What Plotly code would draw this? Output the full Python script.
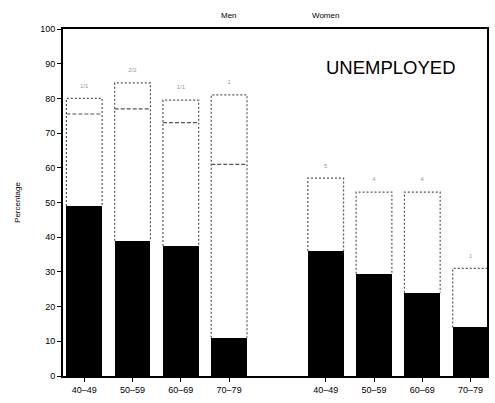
import plotly.graph_objects as go

# Age groups for each sex
age_groups = ["40\u201349", "50\u201359", "60\u201369", "70\u201379"]
groups = ["Men", "Women"]

# Percentage unemployed (solid black part of each bar)
men_solid = [49, 39, 37.5, 11]
women_solid = [36, 29.5, 24, 14]

# Intermediate (dashed) level and upper (dotted) level of each bar
men_mid = [75.5, 77, 73, 61]
men_top = [80, 84.5, 79.5, 81]
women_top = [57, 53, 53, 31]

# Small annotations printed above the bars
men_notes = ["1/1", "2/2", "1/1", "1"]
women_notes = ["5", "4", "4", "1"]

y_ticks = list(range(0, 101, 10))

# Slot positions: four men bars, a blank slot, four women bars
men_x = [0, 1, 2, 3]
women_x = [5, 6, 7, 8]
bar_w = 0.74

fig = go.Figure()

fig.add_trace(go.Bar(
    x=men_x + women_x,
    y=men_solid + women_solid,
    width=bar_w,
    marker=dict(color="black", line=dict(width=0)),
    showlegend=False,
    hoverinfo="skip",
))

# Dotted outlines for the upper, open part of each bar
def outline(xc, y0, y1, dash="2px,2px"):
    h = bar_w / 2
    fig.add_trace(go.Scatter(
        x=[xc - h, xc - h, xc + h, xc + h],
        y=[y0, y1, y1, y0],
        mode="lines",
        line=dict(color="#555555", width=1.2, dash=dash),
        showlegend=False,
        hoverinfo="skip",
    ))

def level(xc, y, dash="4px,2px"):
    h = bar_w / 2
    fig.add_trace(go.Scatter(
        x=[xc - h, xc + h],
        y=[y, y],
        mode="lines",
        line=dict(color="#555555", width=1.2, dash=dash),
        showlegend=False,
        hoverinfo="skip",
    ))

for xc, s, m, t in zip(men_x, men_solid, men_mid, men_top):
    outline(xc, s, t)
    level(xc, m)

for xc, s, t in zip(women_x, women_solid, women_top):
    outline(xc, s, t)

# Faint notes above the bars
fig.add_trace(go.Scatter(
    x=men_x + women_x,
    y=[t + 3.5 for t in men_top] + [t + 3.5 for t in women_top],
    mode="text",
    text=men_notes + women_notes,
    textfont=dict(family="Liberation Sans", size=6, color="#9a9a9a"),
    showlegend=False,
    hoverinfo="skip",
))

fig.update_layout(
    width=495,
    height=403,
    margin=dict(l=63, r=6, t=29, b=27),
    paper_bgcolor="white",
    plot_bgcolor="white",
    bargap=0,
    font=dict(family="Liberation Sans", size=9, color="black"),
    annotations=[
        dict(text="UNEMPLOYED", x=6.35, y=89, xref="x", yref="y",
             showarrow=False, font=dict(size=18.5, color="black")),
        dict(text=groups[0], x=3.0, y=1.0, xref="x", yref="paper",
             yanchor="bottom", yshift=7, showarrow=False,
             font=dict(size=8, color="black")),
        dict(text=groups[1], x=5.0, y=1.0, xref="x", yref="paper",
             yanchor="bottom", yshift=7, showarrow=False,
             font=dict(size=8, color="black")),
    ],
)

fig.update_xaxes(
    range=[-0.44, 8.34],
    tickmode="array",
    tickvals=men_x + women_x,
    ticktext=age_groups + age_groups,
    ticks="outside", ticklen=4, tickwidth=1, tickcolor="black",
    showline=True, linecolor="black", linewidth=1.5, mirror=True,
    showgrid=False, zeroline=False,
    tickfont=dict(size=9),
)

fig.update_yaxes(
    range=[0, 100],
    tickmode="array",
    tickvals=y_ticks,
    ticks="outside", ticklen=4, tickwidth=1, tickcolor="black",
    showline=True, linecolor="black", linewidth=2, mirror=True,
    showgrid=False, zeroline=False,
    title=dict(text="Percentage", font=dict(size=8), standoff=18),
    tickfont=dict(size=9),
)

fig.write_html("out.html")
